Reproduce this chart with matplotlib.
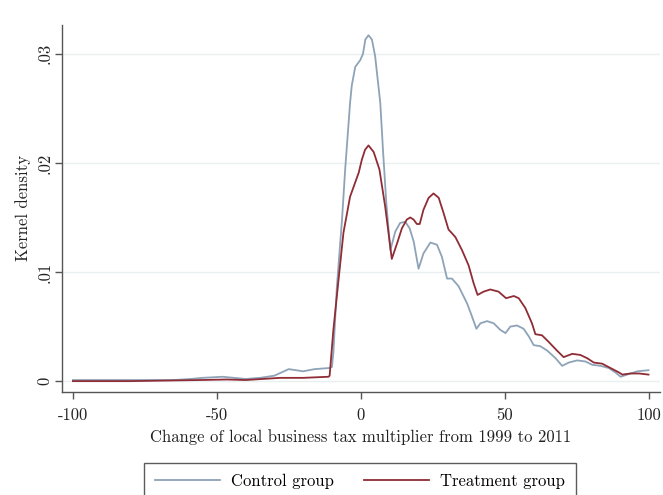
import numpy as np
import matplotlib.pyplot as plt

plt.rcParams['font.family'] = ['cmr10', 'DejaVu Serif']
plt.rcParams['axes.unicode_minus'] = False
plt.rcParams['mathtext.fontset'] = 'cm'

# ── data ──
control_x = [-100, -80, -65, -59, -55, -48, -44, -40, -35, -30, -25, -20, -16, -11, -10,
             -9.5, -8.3, -6.5, -5.4, -3.7, -3.1, -1.9, -0.2, 0.8, 1.6, 2.7, 3.9, 5, 6.8,
             7.8, 8.9, 10.3, 12, 13.7, 15.5, 17, 18.4, 20.1, 21.8, 24.2, 26.5, 28.2, 30,
             31.7, 34, 37, 38.7, 40.2, 41.6, 43.9, 46.2, 48.5, 50.3, 52, 54.3, 56.6, 58.4,
             60.1, 62.4, 64.8, 67.7, 70, 72.3, 75.2, 78.1, 80.4, 83.3, 86.2, 88.5, 90.3,
             92.6, 96.1, 100]
control_y = [0.0001, 0.0001, 0.0001, 0.0002, 0.0003, 0.0004, 0.0003, 0.0002, 0.0003, 0.0005,
             0.0011, 0.0009, 0.0011, 0.0012, 0.0013, 0.0026, 0.0086, 0.0148, 0.0194, 0.0255,
             0.0271, 0.0288, 0.0294, 0.0300, 0.0313, 0.0317, 0.0313, 0.0298, 0.0255, 0.0209,
             0.0163, 0.0120, 0.0137, 0.0145, 0.0146, 0.0140, 0.0128, 0.0103, 0.0117, 0.0127,
             0.0125, 0.0114, 0.0094, 0.0094, 0.0087, 0.0071, 0.0059, 0.0048, 0.0053, 0.0055,
             0.0053, 0.0047, 0.0044, 0.0050, 0.0051, 0.0048, 0.0041, 0.0033, 0.0032, 0.0028,
             0.0021, 0.0014, 0.0017, 0.0019, 0.0018, 0.0015, 0.0014, 0.0012, 0.0008, 0.0004,
             0.0006, 0.0009, 0.0010]

treat_x = [-100, -80, -56, -46.5, -40, -28, -20, -11.2, -10.8, -9.5, -7.7, -6, -3.7, -0.7,
           0.4, 1.5, 2.7, 4.5, 6.5, 8.5, 10.8, 12.6, 14.3, 16, 17.2, 18.4, 19.5, 20.5, 21.8,
           23.6, 25.3, 27.1, 28.8, 30.5, 32.9, 35.2, 37.5, 39.2, 40.6, 42.7, 45, 47.9, 50.5,
           53.2, 54.9, 57.2, 59.5, 60.7, 63, 65.3, 68.2, 70.5, 73.5, 76.3, 78.7, 81, 83.9,
           86.8, 89.7, 90.9, 93.8, 96.7, 100]
treat_y = [0.0000, 0.0000, 0.0001, 0.00015, 0.0001, 0.0003, 0.0003, 0.0004, 0.0005, 0.0047,
           0.0093, 0.0136, 0.0169, 0.0191, 0.0203, 0.0212, 0.0216, 0.0210, 0.0194, 0.0160,
           0.0112, 0.0126, 0.0140, 0.0148, 0.0150, 0.0148, 0.0144, 0.0144, 0.0157, 0.0168,
           0.0172, 0.0168, 0.0154, 0.0139, 0.0132, 0.0120, 0.0106, 0.0090, 0.0079, 0.0082,
           0.0084, 0.0082, 0.0076, 0.0078, 0.0076, 0.0067, 0.0053, 0.0043, 0.0042, 0.0036,
           0.0028, 0.0022, 0.0025, 0.0024, 0.0021, 0.0017, 0.0016, 0.0012, 0.0008, 0.0006,
           0.0007, 0.0007, 0.0006]

x_ticks = [-100, -50, 0, 50, 100]
x_ticklabels = ['-100', '-50', '0', '50', '100']
y_ticks = [0, 0.01, 0.02, 0.03]
y_ticklabels = ['0', '.01', '.02', '.03']

fig = plt.figure(figsize=(6.63, 4.95), dpi=100)
ax = fig.add_axes([0.0935, 0.208, 0.902, 0.742])

for yt in y_ticks:
    ax.axhline(yt, color='#eaf0f2', lw=1.0, zorder=0)

ax.plot(control_x, control_y, color='#8ea3b7', lw=1.3, label='Control group')
ax.plot(treat_x, treat_y, color='#8f2c35', lw=1.3, label='Treatment group')

ax.set_xlim(-103.8, 104)
ax.set_ylim(-0.001, 0.03266)
ax.set_xticks(x_ticks)
ax.set_xticklabels(x_ticklabels)
ax.set_yticks(y_ticks)
ax.set_yticklabels(y_ticklabels, rotation=90, va='center')

for s in ['top', 'right']:
    ax.spines[s].set_visible(False)
for s in ['left', 'bottom']:
    ax.spines[s].set_color('#555555')
    ax.spines[s].set_linewidth(1.0)
ax.tick_params(axis='both', colors='#555555', labelcolor='#222222', labelsize=12,
               length=5, width=1.0, direction='out')
ax.tick_params(axis='x', pad=6.0)
ax.tick_params(axis='y', pad=2.0)

ax.set_xlabel('Change of local business tax multiplier from 1999 to 2011',
              fontsize=12, color='#222222', labelpad=4.5)
ax.set_ylabel('Kernel density', fontsize=12, color='#222222', labelpad=4)

leg = fig.legend(loc='upper center', bbox_to_anchor=(0.543, 0.0646), ncol=2,
                 fontsize=12, frameon=True, fancybox=False, handlelength=3.9,
                 handletextpad=0.66, columnspacing=1.8, borderaxespad=0,
                 borderpad=0.65)
leg.get_frame().set_edgecolor('#333333')
leg.get_frame().set_linewidth(1.0)

fig.savefig('out.png', dpi=100, facecolor='white')
